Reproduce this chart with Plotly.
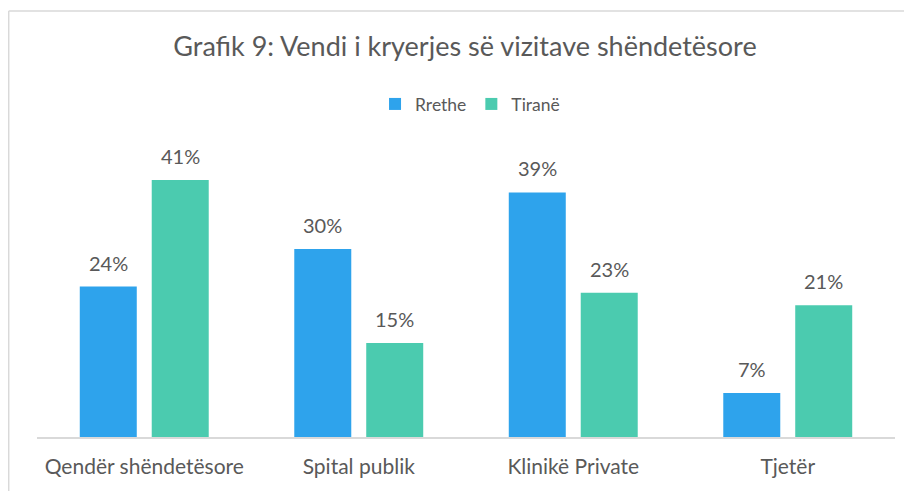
import plotly.graph_objects as go

categories = ["Qendër shëndetësore", "Spital publik", "Klinikë Private", "Tjetër"]
rrethe = [24, 30, 39, 7]
tirane = [41, 15, 23, 21]
series_names = ["Rrethe", "Tiranë"]
title_text = "Grafik 9: Vendi i kryerjes së vizitave shëndetësore"

BLUE = "#2EA3EC"
TEAL = "#4BCBAF"
TEXT = "#595959"
FONT = "Lato"

fig = go.Figure()
fig.add_trace(go.Bar(name=series_names[0], x=categories, y=rrethe, marker_color=BLUE,
                     marker_line_width=0))
fig.add_trace(go.Bar(name=series_names[1], x=categories, y=tirane, marker_color=TEAL,
                     marker_line_width=0))

# value labels above bars
for vals, shift in ((rrethe, -36), (tirane, 36)):
    for c, v in zip(categories, vals):
        fig.add_annotation(x=c, y=v, xref="x", yref="y", text=f"{v}%",
                           showarrow=False, xshift=shift, yshift=24,
                           yanchor="middle", xanchor="center",
                           font=dict(family=FONT, size=20, color=TEXT))

# chart border: only the left and top edges fall inside the picture
border = dict(color="#D9D9D9", width=1.5)
fig.add_shape(type="line", xref="paper", yref="paper",
              x0=-0.033, x1=-0.033, y0=-0.5, y1=1.434, line=border, layer="below")
fig.add_shape(type="line", xref="paper", yref="paper",
              x0=-0.033, x1=1.2, y0=1.434, y1=1.434, line=border, layer="below")

fig.update_layout(
    width=904, height=483,
    paper_bgcolor="white", plot_bgcolor="white",
    margin=dict(l=29, r=17, t=132, b=54),
    barmode="group", bargap=0.329, bargroupgap=0.208,
    font=dict(family=FONT, color=TEXT),
    title=dict(text=title_text, x=0.5055, xref="container", xanchor="center",
               y=1 - 39 / 483, yref="container", yanchor="middle",
               font=dict(family=FONT, size=27, color=TEXT)),
    legend=dict(orientation="h", x=0.5047, xanchor="center", y=1.121, yanchor="middle",
                font=dict(family=FONT, size=17.5, color=TEXT), itemwidth=30,
                traceorder="normal", bgcolor="rgba(0,0,0,0)"),
    showlegend=True,
)
fig.update_xaxes(showline=True, linecolor="#D9D9D9", linewidth=2, ticks="",
                 tickfont=dict(family=FONT, size=21, color=TEXT),
                 ticklabelstandoff=10, showgrid=False, zeroline=False)
fig.update_yaxes(range=[0, 47.37], visible=False, showgrid=False, zeroline=False)

fig.write_html("out.html")
